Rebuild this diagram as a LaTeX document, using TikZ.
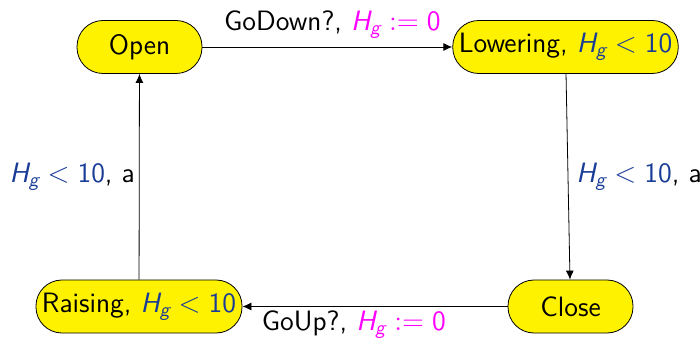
\documentclass[tikz,border=0pt]{standalone}
\usepackage{amsmath}
\usepackage{xcolor}
\usepackage{tikz}
\usetikzlibrary{arrows.meta,positioning}
\definecolor{guardblue}{RGB}{25,60,150}
\definecolor{resetpink}{RGB}{255,0,255}
\newcommand{\Hg}{\textsl{H}_{\textsl{g}}}
\newcommand{\guard}{\textcolor{guardblue}{$\Hg < \text{10}$}}
\newcommand{\reset}{\textcolor{resetpink}{$\Hg := \text{0}$}}
\tikzset{
  locbox/.style={
    draw,
    fill=yellow,
    rounded corners=13pt,
    minimum height=26.5pt,
    minimum width=62.5pt,
    inner xsep=3pt,
    font=\sffamily\fontsize{14}{16}\selectfont
  },
  edgearrow/.style={-{Latex[length=4.5pt,width=4pt]}, thin},
  edgelabel/.style={font=\sffamily\fontsize{14}{16}\selectfont, inner sep=2pt}
}

\begin{document}
\begin{tikzpicture}[x=0.5pt, y=-0.5pt]
  \useasboundingbox (0,0) rectangle (700,341);
  \node[locbox] (open) at (139.5,47) {Open};
  \node[locbox] (lowering) at (565.5,47) {Lowering, \guard};
  \node[locbox] (close) at (570.5,306.5) {Close};
  \node[locbox] (raising) at (139,306.5) {Raising, \guard};

  \draw[edgearrow] (open) -- node[edgelabel, above=2pt, pos=0.52] {GoDown?, \reset} (lowering);
  \draw[edgearrow] (lowering) -- node[edgelabel, right=2pt] {\guard, a} (close);
  \draw[edgearrow] (close) -- node[edgelabel, below=0pt, pos=0.58] {GoUp?, \reset} (raising);
  \draw[edgearrow] (raising) -- node[edgelabel, left=0pt] {\guard, a} (open);
\end{tikzpicture}
\end{document}
